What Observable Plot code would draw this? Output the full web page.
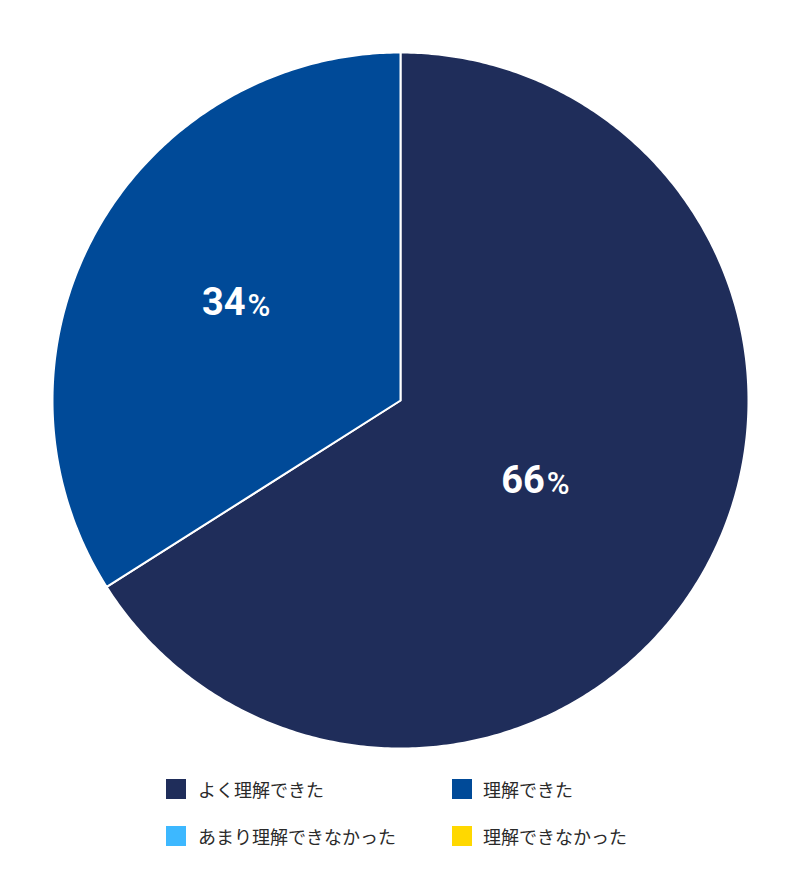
<!DOCTYPE html>
<html>
<head>
<meta charset="utf-8">
<script src="https://cdn.jsdelivr.net/npm/d3@7"></script>
<script src="https://cdn.jsdelivr.net/npm/@observablehq/plot@0.6"></script>
<style>
  body { margin: 0; background: #fff; font-family: "Noto Sans CJK JP", "Noto Sans", sans-serif; }
  #chart svg { display: block; }
  .legend { position: relative; height: 110px; }
  .item { position: absolute; display: flex; align-items: center; font-size: 18px; color: #2a2a2a; height: 20px; }
  .sw { width: 20px; height: 20px; margin-right: 12px; }
</style>
</head>
<body>
<div id="chart"></div>
<div class="legend" id="legend"></div>
<script>
const categories = ["よく理解できた", "理解できた", "あまり理解できなかった", "理解できなかった"];
const values = [66, 34, 0, 0];
const palette = ["#1f2d5a", "#004a98", "#3db8ff", "#ffd800"];

const total = d3.sum(values);
let acc = 0;
const slices = categories.map((c, i) => {
  const a0 = acc / total * 2 * Math.PI;
  acc += values[i];
  const a1 = acc / total * 2 * Math.PI;
  return {category: c, value: values[i], a0, a1, share: values[i] / total};
}).filter(d => d.value > 0);

function wedge(d) {
  const n = Math.max(2, Math.ceil((d.a1 - d.a0) / 0.01));
  const pts = [[0, 0]];
  for (let k = 0; k <= n; k++) {
    const a = d.a0 + (d.a1 - d.a0) * k / n;
    pts.push([Math.sin(a), -Math.cos(a)]);
  }
  pts.push([0, 0]);
  return {type: "Feature", properties: d, geometry: {type: "Polygon", coordinates: [pts]}};
}
const features = slices.map(wedge);
const labels = slices.map(d => {
  const m = (d.a0 + d.a1) / 2 + 1.9 * Math.PI / 180;
  const r = 0.5 + 0.3 * (0.5 - d.share);
  return {x: r * Math.sin(m), y: -r * Math.cos(m), num: String(d.value), pct: "%"};
});

const plot = Plot.plot({
  width: 800,
  height: 765,
  marginTop: 52,
  marginLeft: 52,
  marginRight: 52,
  marginBottom: 17,
  projection: {type: "identity", domain: {type: "MultiPoint", coordinates: [[-1, -1], [1, 1]]}},
  color: {domain: categories, range: palette},
  marks: [
    Plot.geo(features, {fill: d => d.properties.category, stroke: "white", strokeWidth: 2}),
    Plot.text(labels, {x: "x", y: "y", text: "num", textAnchor: "end", dx: 9, fill: "white", fontSize: 38, fontWeight: "bold", fontFamily: "Roboto, sans-serif"}),
    Plot.text(labels, {x: "x", y: "y", text: "pct", textAnchor: "start", dx: 11, dy: 3, fill: "white", fontSize: 31, fontWeight: 500, fontFamily: "Roboto, sans-serif"})
  ]
});
document.getElementById("chart").append(plot);

const legend = document.getElementById("legend");
const pos = [[166, 14], [452, 14], [166, 61], [452, 61]];
categories.forEach((c, i) => {
  const it = document.createElement("div");
  it.className = "item";
  it.style.left = pos[i][0] + "px";
  it.style.top = pos[i][1] + "px";
  const sw = document.createElement("span");
  sw.className = "sw";
  sw.style.background = palette[i];
  if (i % 2 === 1) sw.style.marginRight = "11px";
  const t = document.createElement("span");
  t.textContent = c;
  it.append(sw, t);
  legend.append(it);
});
</script>
</body>
</html>
